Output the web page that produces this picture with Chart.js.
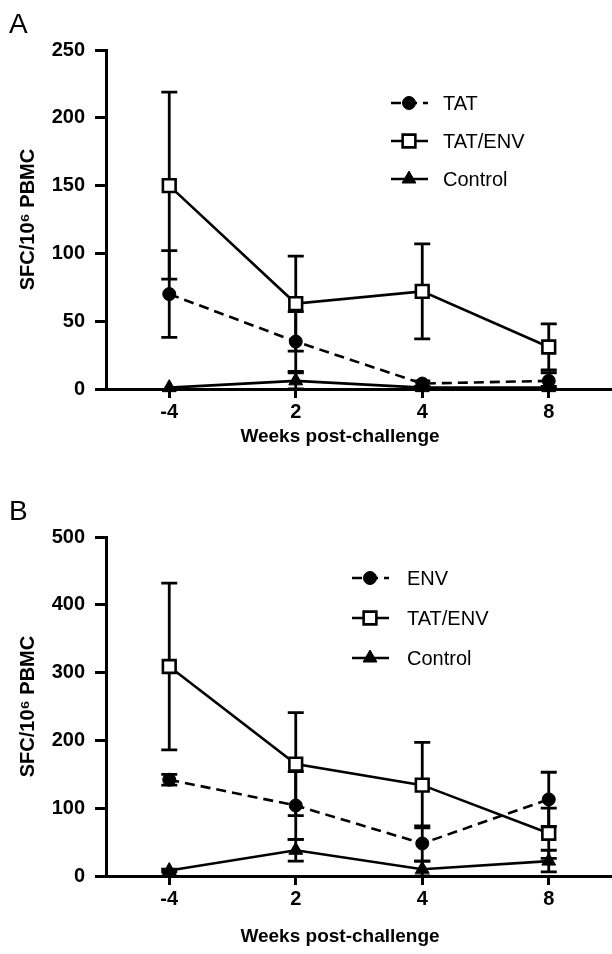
<!DOCTYPE html>
<html>
<head>
<meta charset="utf-8">
<script src="https://cdn.jsdelivr.net/npm/chart.js@4.4.1/dist/chart.umd.min.js"></script>
<style>
  html, body { margin: 0; padding: 0; background: #fff; }
  body { width: 612px; height: 954px; position: relative; overflow: hidden; }
  .panel { position: absolute; left: 0; width: 612px; height: 467px; }
  canvas { display: block; }
</style>
</head>
<body>
<div class="panel" style="top:0px"><canvas id="chartA" width="612" height="467"></canvas></div>
<div class="panel" style="top:487px"><canvas id="chartB" width="612" height="467"></canvas></div>
<script>
// ---------- data ----------
const weeks = ['-4', '2', '4', '8'];
const xTitle = 'Weeks post-challenge';
const yTitle = 'SFC/10\u2076 PBMC';

// Panel A
const aLabels = ['TAT', 'TAT/ENV', 'Control'];
const aTAT = [70, 35, 4, 6];
const aTATerr = [32, 22, 2, 6];
const aTATENV = [150, 63, 72, 31];
const aTATENVerr = [69, 35, 35, 17];
const aControl = [1, 6, 1, 1];
const aControlErr = [0, 6, 1, 1];
const aYTicks = [0, 50, 100, 150, 200, 250];

// Panel B
const bLabels = ['ENV', 'TAT/ENV', 'Control'];
const bENV = [142, 104, 48, 113];
const bENVerr = [8, 50, 26, 40];
const bTATENV = [309, 165, 134, 63];
const bTATENVerr = [123, 76, 63, 37];
const bControl = [8, 38, 10, 22];
const bControlErr = [2, 16, 12, 16];
const bYTicks = [0, 100, 200, 300, 400, 500];

const FONT = '"Liberation Sans", Arial, Helvetica, sans-serif';

// ---------- plugins ----------
const errorBars = {
  id: 'errorBars',
  beforeDatasetsDraw(chart) {
    const ctx = chart.ctx;
    const y = chart.scales.y;
    ctx.save();
    ctx.strokeStyle = '#000';
    ctx.lineWidth = 2.8;
    chart.data.datasets.forEach((ds, di) => {
      const meta = chart.getDatasetMeta(di);
      ds.errors.forEach((e, i) => {
        if (!e) return;
        const px = meta.data[i].x;
        const top = y.getPixelForValue(ds.data[i] + e);
        const bot = y.getPixelForValue(Math.max(0, ds.data[i] - e));
        ctx.beginPath();
        ctx.moveTo(px, top); ctx.lineTo(px, bot);
        ctx.moveTo(px - 8, top); ctx.lineTo(px + 8, top);
        ctx.moveTo(px - 8, bot); ctx.lineTo(px + 8, bot);
        ctx.stroke();
      });
    });
    ctx.restore();
  }
};

const customLegend = {
  id: 'customLegend',
  afterDraw(chart, args, opts) {
    const ctx = chart.ctx;
    ctx.save();
    chart.data.datasets.forEach((ds, i) => {
      const yy = opts.y + i * opts.spacing;
      const x0 = opts.x, x1 = opts.x + 37, xm = opts.x + 18;
      ctx.strokeStyle = '#000';
      ctx.lineWidth = 2.6;
      ctx.setLineDash(ds.borderDash || []);
      ctx.beginPath(); ctx.moveTo(x0, yy); ctx.lineTo(x1, yy); ctx.stroke();
      ctx.setLineDash([]);
      ctx.fillStyle = ds.pointBackgroundColor;
      ctx.strokeStyle = '#000';
      ctx.lineWidth = ds.pointBorderWidth;
      ctx.beginPath();
      const r = ds.pointRadius;
      if (ds.pointStyle === 'rect') {
        const s = Math.SQRT1_2 * r;
        ctx.rect(xm - s, yy - s, 2 * s, 2 * s);
      } else if (ds.pointStyle === 'triangle') {
        ctx.moveTo(xm, yy - r);
        ctx.lineTo(xm + r * 0.866, yy + r * 0.5);
        ctx.lineTo(xm - r * 0.866, yy + r * 0.5);
        ctx.closePath();
      } else {
        ctx.arc(xm, yy, r, 0, Math.PI * 2);
      }
      ctx.fill(); ctx.stroke();
      ctx.fillStyle = '#000';
      ctx.font = '20px ' + FONT;
      ctx.textBaseline = 'middle';
      ctx.textAlign = 'left';
      ctx.fillText(ds.label, opts.textX, yy + 1);
    });
    ctx.restore();
  }
};

const panelText = {
  id: 'panelText',
  afterDraw(chart, args, opts) {
    const ctx = chart.ctx;
    ctx.save();
    ctx.fillStyle = '#000';
    ctx.font = '28px ' + FONT;
    ctx.textBaseline = 'alphabetic';
    ctx.textAlign = 'left';
    ctx.fillText(opts.letter, 9, 33);
    // x-axis title, centred where the original places it
    ctx.font = 'bold 19px ' + FONT;
    ctx.textAlign = 'center';
    ctx.textBaseline = 'middle';
    ctx.fillText(xTitle, opts.titleX, opts.titleY);
    ctx.restore();
  }
};

function seriesStyle(label, data, errors, kind) {
  const base = {
    label, data, errors,
    borderColor: '#000', borderWidth: 2.6, tension: 0, clip: false,
    pointBorderColor: '#000', pointHoverRadius: 0
  };
  if (kind === 'circle') {
    return Object.assign(base, { borderDash: [10, 6], pointStyle: 'circle', pointRadius: 6.5,
      pointBackgroundColor: '#000', pointBorderWidth: 1 });
  }
  if (kind === 'rect') {
    return Object.assign(base, { pointStyle: 'rect', pointRadius: 9,
      pointBackgroundColor: '#fff', pointBorderWidth: 2.6 });
  }
  return Object.assign(base, { pointStyle: 'triangle', pointRadius: 8,
    pointBackgroundColor: '#000', pointBorderWidth: 1 });
}

function makeChart(id, datasets, yTicks, yMax, step, legendOpts, letter, titleY) {
  return new Chart(document.getElementById(id), {
    type: 'line',
    data: { labels: weeks, datasets },
    options: {
      responsive: false,
      animation: false,
      events: [],
      layout: { autoPadding: false, padding: { top: 50, left: 0, right: 0, bottom: 0 } },
      plugins: {
        legend: { display: false },
        tooltip: { enabled: false },
        customLegend: legendOpts,
        panelText: { letter, titleX: 340, titleY }
      },
      scales: {
        x: {
          type: 'category',
          offset: true,
          afterFit(s) { s.height = 78; s.paddingLeft = 0; s.paddingRight = 0; },
          grid: { drawOnChartArea: false, drawTicks: true, tickLength: 9, lineWidth: 3, color: '#000' },
          border: { display: true, width: 3, color: '#000' },
          ticks: { color: '#000', font: { family: FONT, size: 20, weight: 'bold' }, padding: 2, maxRotation: 0 }
        },
        y: {
          min: 0, max: yMax,
          afterFit(s) { s.width = 106; },
          afterBuildTicks(s) { s.ticks = yTicks.map(v => ({ value: v })); },
          grid: { drawOnChartArea: false, drawTicks: true, tickLength: 11, lineWidth: 3, color: '#000' },
          border: { display: true, width: 3, color: '#000' },
          ticks: { color: '#000', font: { family: FONT, size: 20, weight: 'bold' }, padding: 10, stepSize: step },
          title: { display: true, text: yTitle, color: '#000',
            font: { family: FONT, size: 20, weight: 'bold' }, padding: { top: 16, bottom: 0 } }
        }
      }
    },
    plugins: [errorBars, customLegend, panelText]
  });
}

makeChart('chartA', [
  seriesStyle(aLabels[0], aTAT, aTATerr, 'circle'),
  seriesStyle(aLabels[1], aTATENV, aTATENVerr, 'rect'),
  seriesStyle(aLabels[2], aControl, aControlErr, 'triangle')
], aYTicks, 250, 50, { x: 391, textX: 443, y: 103, spacing: 38 }, 'A', 437);

makeChart('chartB', [
  seriesStyle(bLabels[0], bENV, bENVerr, 'circle'),
  seriesStyle(bLabels[1], bTATENV, bTATENVerr, 'rect'),
  seriesStyle(bLabels[2], bControl, bControlErr, 'triangle')
], bYTicks, 500, 100, { x: 352, textX: 407, y: 91, spacing: 40 }, 'B', 450);
</script>
</body>
</html>
